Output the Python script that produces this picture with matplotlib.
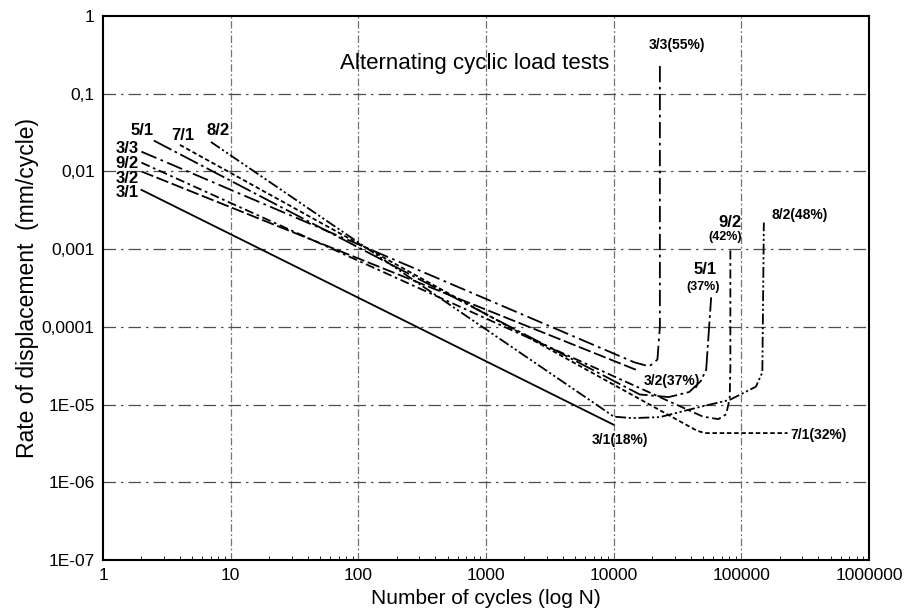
import matplotlib
matplotlib.use("Agg")
import matplotlib.pyplot as plt
from matplotlib.ticker import LogLocator, NullLocator, NullFormatter

# ---- data (N = cycles, r = mm/cycle) ----
n_31 = [2, 10000]
r_31 = [5.8e-3, 5.5e-6]

n_32 = [2, 15000]
r_32 = [1.0e-2, 2.8e-5]

n_33 = [2, 14500, 19000, 22000, 23000, 23000]
r_33 = [1.8e-2, 3.5e-5, 3.1e-5, 3.8e-5, 1.0e-4, 0.25]

n_92 = [2, 50000, 66000, 76000, 81000, 82000, 82000]
r_92 = [1.3e-2, 7.0e-6, 6.5e-6, 7.5e-6, 1.2e-5, 3.0e-5, 9.7e-4]

n_51 = [2.5, 16000, 27000, 39000, 48000, 53000, 58000]
r_51 = [2.5e-2, 1.35e-5, 1.25e-5, 1.45e-5, 2.0e-5, 2.8e-5, 2.4e-4]

n_71 = [4, 45000, 52000, 230000]
r_71 = [2.2e-2, 4.6e-6, 4.3e-6, 4.3e-6]

n_82 = [7, 7800, 10000, 14000, 23000, 47000, 81000, 130000, 146000, 150000]
r_82 = [2.4e-2, 9.3e-6, 7.0e-6, 6.7e-6, 6.9e-6, 9.3e-6, 1.15e-5, 1.7e-5, 2.6e-5, 2.2e-3]

x_ticks = [1, 10, 100, 1000, 10000, 100000, 1000000]
x_labels = ["1", "10", "100", "1000", "10000", "100000", "1000000"]
y_ticks = [1e-7, 1e-6, 1e-5, 1e-4, 1e-3, 1e-2, 1e-1, 1]
y_labels = ["1E-07", "1E-06", "1E-05", "0,0001", "0,001", "0,01", "0,1", "1"]

plt.rcParams['font.family'] = ['Liberation Sans', 'DejaVu Sans']

fig = plt.figure(figsize=(9.06, 6.16), dpi=100)
ax = fig.add_axes([0.1137, 0.0909, 0.8455, 0.883])
ax.set_xscale('log')
ax.set_yscale('log')
ax.set_xlim(1, 1e6)
ax.set_ylim(1e-7, 1)

# grid: broken dash-dot lines like the scan
for xv in x_ticks[1:-1]:
    ax.axvline(xv, color='0.45', lw=0.9, ls=(0, (6, 2, 1.5, 2)), zorder=1)
for yv in y_ticks[1:-1]:
    ax.axhline(yv, color='0.3', lw=0.9, ls=(0, (10, 4, 2, 4)), zorder=1)

lw = 1.3
ax.plot(n_31, r_31, color='black', lw=lw, ls='-')
ax.plot(n_32, r_32, color='black', lw=lw, ls=(0, (7, 2)))
ax.plot(n_33, r_33, color='black', lw=lw, ls=(0, (9, 2.5, 1.5, 2.5)))
ax.plot(n_92, r_92, color='black', lw=lw, ls=(0, (5, 2, 1.5, 2)))
ax.plot(n_51, r_51, color='black', lw=lw, ls=(0, (11, 2, 1.5, 2)))
ax.plot(n_71, r_71, color='black', lw=lw, ls=(0, (2.5, 1.5)))
ax.plot(n_82, r_82, color='black', lw=lw, ls=(0, (6, 1.5, 1.2, 1.5, 1.2, 1.5)))

# curve labels
lab = dict(fontsize=12, fontweight='bold', ha='center', va='center', color='black')
ax.text(2.02, 0.034, "5/1", **lab)
ax.text(4.2, 0.0294, "7/1", **lab)
ax.text(7.95, 0.034, "8/2", **lab)
ax.text(1.54, 0.020, "3/3", **lab)
ax.text(1.54, 0.0128, "9/2", **lab)
ax.text(1.54, 0.0082, "3/2", **lab)
ax.text(1.54, 0.0053, "3/1", **lab)

sm = dict(fontsize=10, fontweight='bold', ha='center', va='center', color='black')
ax.text(31300, 0.42, "3/3(55%)", **sm)
ax.text(81000, 2.23e-3, "9/2", **lab)
ax.text(74500, 1.43e-3, "(42%)", fontsize=9, fontweight='bold',
        ha='center', va='center')
ax.text(287000, 2.75e-3, "8/2(48%)", **sm)
ax.text(51800, 5.4e-4, "5/1", **lab)
ax.text(50000, 3.25e-4, "(37%)", fontsize=9, fontweight='bold',
        ha='center', va='center')
ax.text(28600, 2.0e-5, "3/2(37%)", **sm)
ax.text(11200, 3.5e-6, "3/1(18%)", **sm)
ax.text(240000, 4.07e-6, "7/1(32%)", fontsize=10, fontweight='bold',
        ha='left', va='center')

ax.text(819, 0.248, "Alternating cyclic load tests", fontsize=16,
        ha='center', va='center')

ax.set_xticks(x_ticks)
ax.set_xticklabels(x_labels)
ax.set_yticks(y_ticks)
ax.set_yticklabels(y_labels)
ax.xaxis.set_minor_locator(LogLocator(base=10, subs=range(2, 10), numticks=20))
ax.xaxis.set_minor_formatter(NullFormatter())
ax.yaxis.set_minor_locator(NullLocator())
ax.tick_params(axis='both', which='major', length=0, labelsize=12.5, pad=6)
ax.tick_params(axis='x', which='minor', direction='in', length=3, width=0.6)

for sp in ax.spines.values():
    sp.set_linewidth(1.5)
    sp.set_color('black')

ax.set_xlabel("Number of cycles (log N)", fontsize=15, labelpad=4)
ax.set_ylabel("Rate of displacement  (mm/cycle)", fontsize=16.5, labelpad=2)

fig.savefig("out.png", dpi=100)
